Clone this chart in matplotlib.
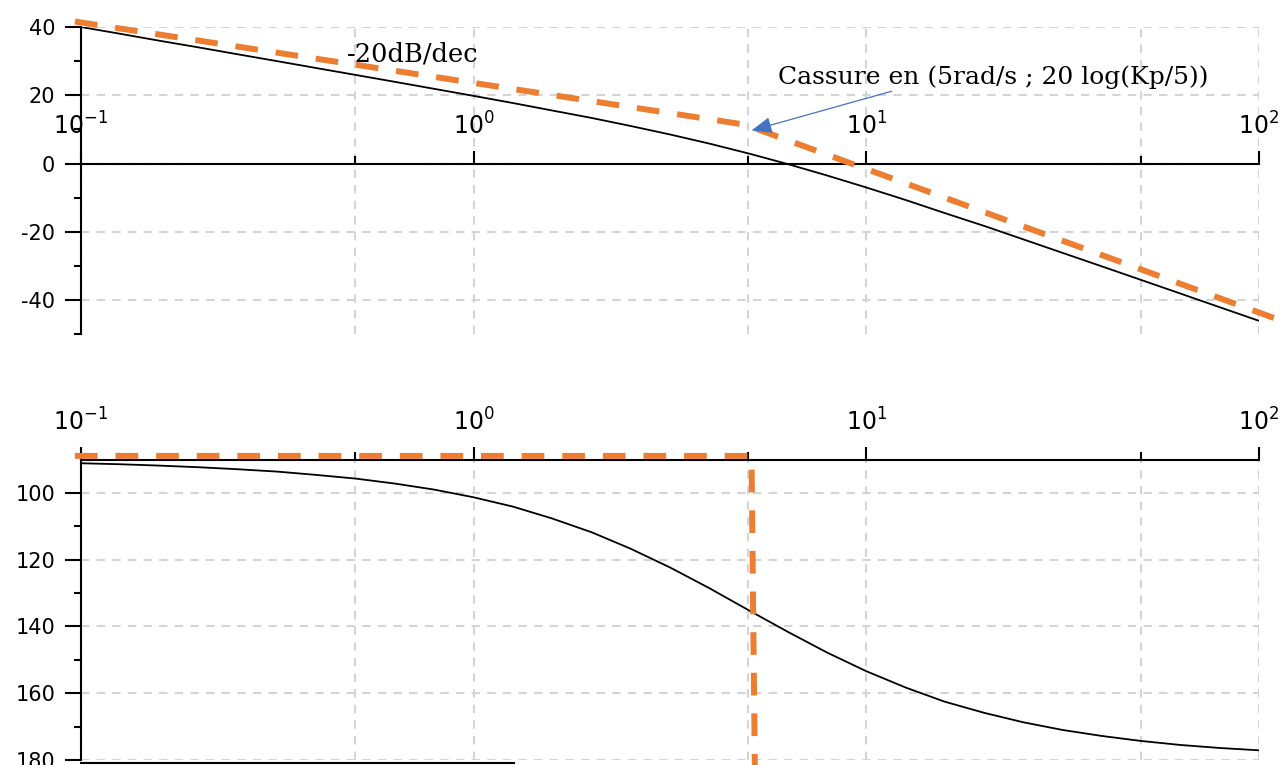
import numpy as np
import matplotlib.pyplot as plt
import matplotlib.ticker as mtick

plt.rcParams['font.family'] = ['DejaVu Sans']
plt.rcParams['axes.unicode_minus'] = False
plt.rcParams['mathtext.fontset'] = 'dejavusans'

w = [0.1, 0.126, 0.158, 0.2, 0.251, 0.316, 0.398, 0.501, 0.631, 0.794,
     1.0, 1.26, 1.58, 2.0, 2.51, 3.16, 3.98, 5.01, 6.31, 7.94,
     10.0, 12.6, 15.8, 20.0, 25.1, 31.6, 39.8, 50.1, 63.1, 79.4, 100.0]
gain_db = [40.0, 38.0, 36.0, 34.0, 32.0, 30.0, 27.97, 25.96, 23.93, 21.89,
           19.83, 17.73, 15.58, 13.36, 11.02, 8.54, 5.87, 2.98, -0.14, -3.47,
           -6.99, -10.66, -14.44, -18.28, -22.18, -26.13, -30.09, -34.06, -38.05, -42.04, -46.03]
phase_deg = [91.1, 91.4, 91.8, 92.3, 92.9, 93.6, 94.6, 95.7, 97.2, 99.0,
             101.3, 104.1, 107.6, 111.8, 116.7, 122.3, 128.5, 135.1, 141.6, 147.8,
             153.4, 158.3, 162.5, 165.9, 168.7, 171.0, 172.8, 174.3, 175.5, 176.4, 177.1]

# asymptotes tracees a la main (orange)
asym_gain_w = [0.0965, 4.91, 118.5]
asym_gain_db = [41.6, 11.4, -46.7]
asym_phase_w = [0.0965, 5.1, 5.2]
asym_phase_deg = [88.9, 88.9, 181.5]

x_major = [0.1, 1, 10, 100]
x_labels = ['$10^{-1}$', '$10^{0}$', '$10^{1}$', '$10^{2}$']
x_minor = [0.5, 5, 50]

orange = '#ED7D31'
grid_col = '#d4d4d4'


def style_axes(ax):
     ax.set_xscale('log')
     ax.set_xlim(0.1, 100)
     ax.xaxis.set_major_locator(mtick.FixedLocator(x_major))
     ax.xaxis.set_minor_locator(mtick.FixedLocator(x_minor))
     ax.xaxis.set_major_formatter(mtick.FixedFormatter(x_labels))
     ax.xaxis.set_minor_formatter(mtick.NullFormatter())
     ax.xaxis.tick_top()
     ax.tick_params(axis='x', which='major', direction='out', length=9.5, width=1.5, labelsize=17, pad=8)
     ax.tick_params(axis='x', which='minor', direction='out', length=5.5, width=1.5)
     ax.tick_params(axis='y', which='major', direction='out', length=11.5, width=1.5, labelsize=15, pad=7)
     ax.tick_params(axis='y', which='minor', direction='out', length=5, width=1.5)
     ax.spines['right'].set_visible(False)
     ax.spines['left'].set_linewidth(1.5)
     ax.spines['top'].set_linewidth(1.5)
     ax.set_axisbelow(True)
     ax.grid(True, which='both', axis='x', color=grid_col, linestyle=(0, (4, 3.5)), linewidth=1.5)
     ax.grid(True, which='major', axis='y', color=grid_col, linestyle=(0, (4, 3.5)), linewidth=1.5)


fig = plt.figure(figsize=(12.88, 7.65), dpi=100)

# gain
ax1 = fig.add_axes([81 / 1288, 0.5629, 1178 / 1288, 0.4018])
style_axes(ax1)
ax1.set_ylim(-50, 40)
ax1.yaxis.set_major_locator(mtick.MultipleLocator(20))
ax1.yaxis.set_minor_locator(mtick.FixedLocator([-50, -30, -10, 10, 30]))
ax1.spines['top'].set_position(('data', 0))
ax1.spines['bottom'].set_visible(False)
ax1.plot(w, gain_db, color='black', linewidth=1.3, zorder=3)
ax1.plot(asym_gain_w, asym_gain_db, color=orange, linewidth=4.3,
         linestyle=(0, (3.8, 3.0)), dash_capstyle='butt', clip_on=False, zorder=4)
ax1.text(0.475, 30, '-20dB/dec', family='DejaVu Serif', fontsize=18.5, ha='left', va='baseline')
ax1.text(5.95, 23.4, 'Cassure en (5rad/s ; 20 log(Kp/5))', family='DejaVu Serif',
         fontsize=18, ha='left', va='baseline')
ax1.annotate('', xy=(5.1, 9.7), xytext=(11.6, 21.2),
             arrowprops=dict(arrowstyle='-|>,head_length=0.5,head_width=0.2', color='#4472C4',
                             lw=0.9, mutation_scale=25, shrinkA=0, shrinkB=0), zorder=5)

# phase
ax2 = fig.add_axes([81 / 1288, 0.00654, 1178 / 1288, 0.3927])
style_axes(ax2)
ax2.set_ylim(180, 90)
ax2.yaxis.set_major_locator(mtick.MultipleLocator(20))
ax2.yaxis.set_minor_locator(mtick.FixedLocator([110, 130, 150, 170]))
ax2.spines['bottom'].set_bounds(0.1, 1.27)
ax2.spines['bottom'].set_position(('outward', 2))
ax2.spines['bottom'].set_linewidth(1.5)
ax2.plot(w, phase_deg, color='black', linewidth=1.3, zorder=3)
ax2.plot(asym_phase_w, asym_phase_deg, color=orange, linewidth=4.3,
         linestyle=(0, (3.8, 3.0)), dash_capstyle='butt', clip_on=False, zorder=4)

plt.savefig('out.png', dpi=100)
